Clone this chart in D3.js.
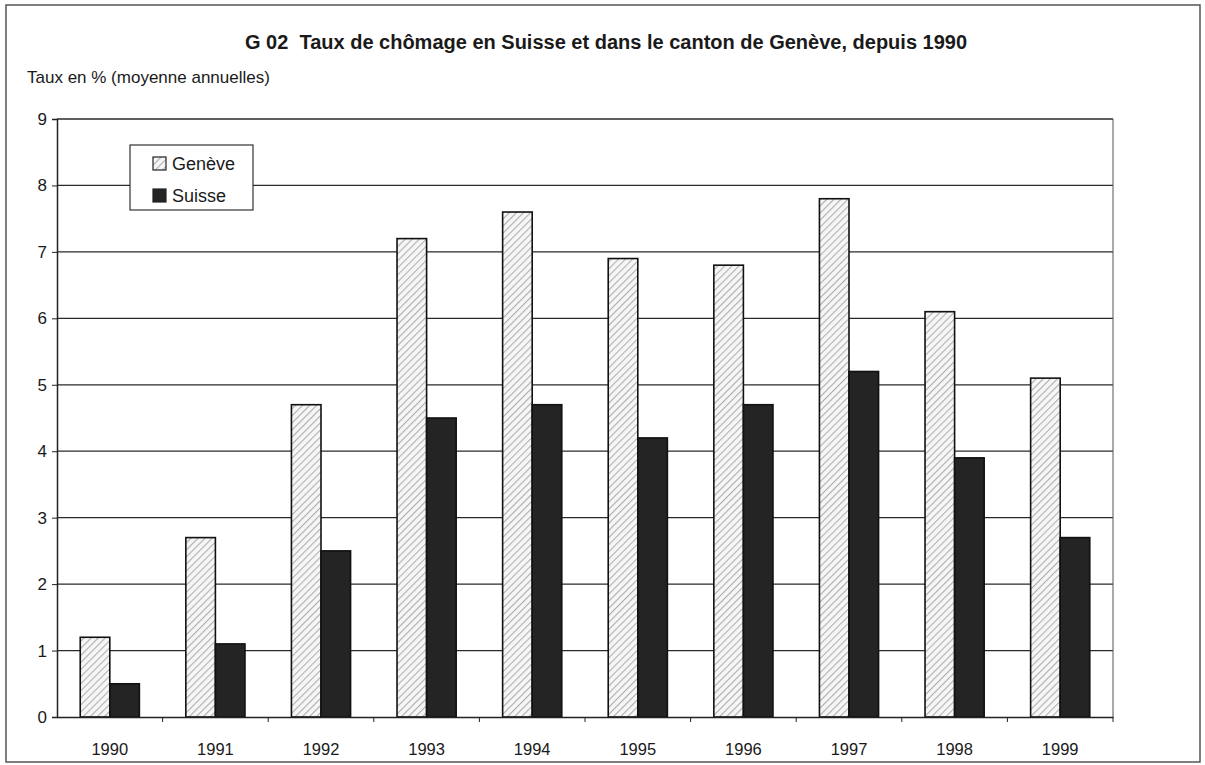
<!DOCTYPE html>
<html><head><meta charset="utf-8">
<script src="https://cdn.jsdelivr.net/npm/d3@7"></script>
<style>body{margin:0;background:#fff}svg{display:block}text{font-family:"Liberation Sans",Arial,sans-serif;fill:#1a1a1a}</style>
</head><body><svg id="c" width="1205" height="765"></svg>
<script>
const years = ["1990","1991","1992","1993","1994","1995","1996","1997","1998","1999"];
const geneve = [1.2, 2.7, 4.7, 7.2, 7.6, 6.9, 6.8, 7.8, 6.1, 5.1];
const suisse = [0.5, 1.1, 2.5, 4.5, 4.7, 4.2, 4.7, 5.2, 3.9, 2.7];
const yTicks = [0,1,2,3,4,5,6,7,8,9];
const seriesNames = ["Genève","Suisse"];
const title = "G 02  Taux de chômage en Suisse et dans le canton de Genève, depuis 1990";
const subtitle = "Taux en % (moyenne annuelles)";

const svg = d3.select("#c");
const L = 57, R = 1113, T = 119, B = 717;

const defs = svg.append("defs");
const pat = defs.append("pattern").attr("id","hatch").attr("patternUnits","userSpaceOnUse")
  .attr("width",5).attr("height",5).attr("patternTransform","rotate(45)");
pat.append("rect").attr("width",5).attr("height",5).attr("fill","#f6f6f6");
pat.append("line").attr("x1",0).attr("y1",0).attr("x2",0).attr("y2",5).attr("stroke","#b0b0b0").attr("stroke-width",2.2);

// frame
svg.append("rect").attr("x",6).attr("y",5).attr("width",1194).attr("height",757)
  .attr("fill","none").attr("stroke","#555").attr("stroke-width",1.5);

svg.append("text").attr("x",606).attr("y",49).attr("text-anchor","middle")
  .attr("font-size",20).attr("font-weight","bold").attr("xml:space","preserve").text(title);
svg.append("text").attr("x",27).attr("y",83).attr("font-size",17).text(subtitle);

const x = d3.scaleBand().domain(years).range([L,R]).paddingInner(0).paddingOuter(0);
const y = d3.scaleLinear().domain([0,9]).range([B,T]);
const barW = x.bandwidth()*0.28;

// gridlines
svg.append("g").selectAll("line").data(yTicks.filter(d=>d>0)).join("line")
  .attr("x1",L).attr("x2",R).attr("y1",d=>y(d)).attr("y2",d=>y(d))
  .attr("stroke","#2a2a2a").attr("stroke-width",1.3);
// right border of plot
svg.append("line").attr("x1",R).attr("x2",R).attr("y1",T).attr("y2",B).attr("stroke","#555").attr("stroke-width",1);

// bars
const g = svg.append("g");
years.forEach((yr,i)=>{
  const cx = x(yr)+x.bandwidth()/2;
  g.append("rect").attr("x",cx-barW).attr("y",y(geneve[i])).attr("width",barW).attr("height",y(0)-y(geneve[i]))
    .attr("fill","url(#hatch)").attr("stroke","#111").attr("stroke-width",1.6);
  g.append("rect").attr("x",cx).attr("y",y(suisse[i])).attr("width",barW).attr("height",y(0)-y(suisse[i]))
    .attr("fill","#242424").attr("stroke","#111").attr("stroke-width",1.6);
});

// y axis
const ya = svg.append("g").attr("transform",`translate(${L},0)`)
  .call(d3.axisLeft(y).tickValues(yTicks).tickSize(5).tickPadding(5).tickFormat(d3.format("d")));
ya.select(".domain").attr("stroke","#222").attr("stroke-width",1.5);
ya.selectAll(".tick line").attr("stroke","#222");
ya.selectAll("text").attr("font-size",17).attr("font-family","Liberation Sans, Arial, sans-serif").attr("fill","#1a1a1a");

// x axis
const xa = svg.append("g").attr("transform",`translate(0,${B})`)
  .call(d3.axisBottom(x).tickSize(0).tickPadding(26));
xa.select(".domain").attr("stroke","#222").attr("stroke-width",1.5);
xa.selectAll("text").attr("font-size",16.5).attr("font-family","Liberation Sans, Arial, sans-serif").attr("fill","#1a1a1a");
svg.append("g").selectAll("line").data(years.slice(1).concat(["end"])).join("line")
  .attr("x1",d=>d==="end"?R:x(d)).attr("x2",d=>d==="end"?R:x(d)).attr("y1",B).attr("y2",B+5)
  .attr("stroke","#222").attr("stroke-width",1);

// legend
const lg = svg.append("g").attr("transform","translate(130,145)");
lg.append("rect").attr("width",123).attr("height",65).attr("fill","#fff").attr("stroke","#333").attr("stroke-width",1.2);
const sw = ["url(#hatch)","#242424"];
seriesNames.forEach((n,i)=>{
  const yy = 12 + i*32;
  lg.append("rect").attr("x",23).attr("y",yy).attr("width",13).attr("height",13)
    .attr("fill",sw[i]).attr("stroke","#222").attr("stroke-width",1.2);
  lg.append("text").attr("x",42).attr("y",yy+13).attr("font-size",18).text(n);
});
</script></body></html>
